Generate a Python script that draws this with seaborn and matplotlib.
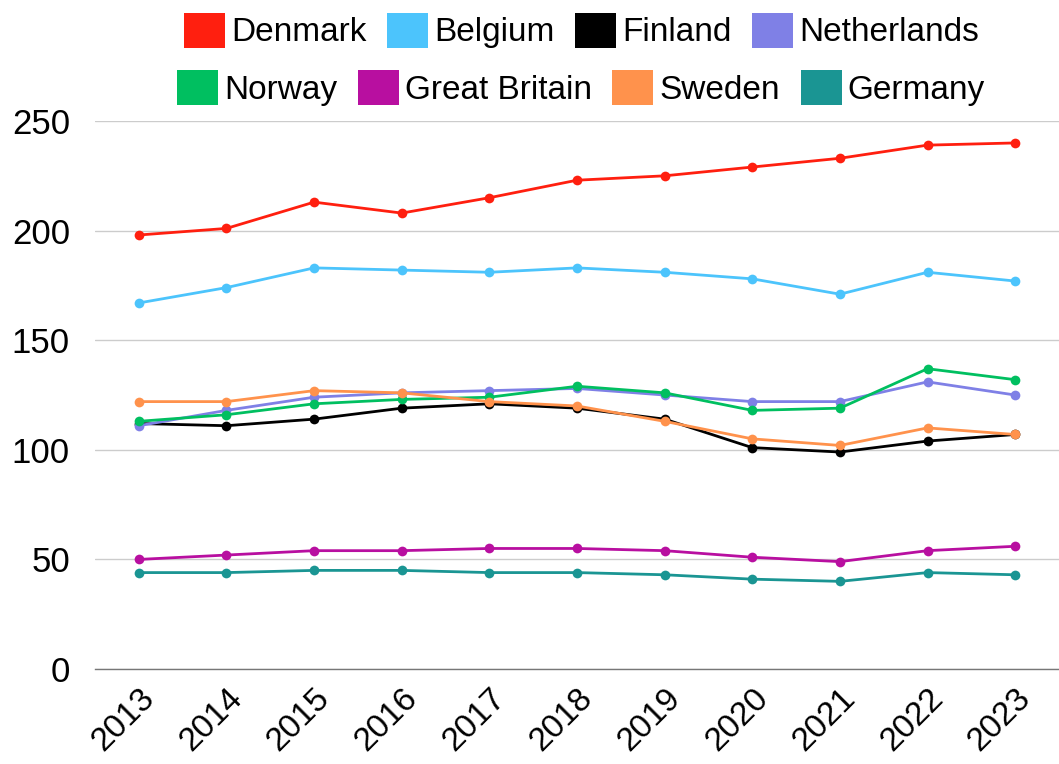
import matplotlib
matplotlib.use("Agg")
import matplotlib.pyplot as plt
from matplotlib.patches import Patch
import seaborn as sns
import pandas as pd

years = [2013, 2014, 2015, 2016, 2017, 2018, 2019, 2020, 2021, 2022, 2023]

denmark = [198, 201, 213, 208, 215, 223, 225, 229, 233, 239, 240]
belgium = [167, 174, 183, 182, 181, 183, 181, 178, 171, 181, 177]
finland = [112, 111, 114, 119, 121, 119, 114, 101, 99, 104, 107]
netherlands = [111, 118, 124, 126, 127, 128, 125, 122, 122, 131, 125]
norway = [113, 116, 121, 123, 124, 129, 126, 118, 119, 137, 132]
great_britain = [50, 52, 54, 54, 55, 55, 54, 51, 49, 54, 56]
sweden = [122, 122, 127, 126, 122, 120, 113, 105, 102, 110, 107]
germany = [44, 44, 45, 45, 44, 44, 43, 41, 40, 44, 43]

countries = ["Denmark", "Belgium", "Finland", "Netherlands",
             "Norway", "Great Britain", "Sweden", "Germany"]
series = [denmark, belgium, finland, netherlands,
          norway, great_britain, sweden, germany]
colors = ["#ff1f0f", "#4cc4fc", "#000000", "#7f80e6",
          "#00bf60", "#b80fa0", "#ff924c", "#1a9593"]

rows = []
for name, vals in zip(countries, series):
    for y, v in zip(years, vals):
        rows.append({"year": y, "value": v, "country": name})
df = pd.DataFrame(rows)

sns.set_style("white")
plt.rcParams["font.family"] = ["Liberation Sans", "DejaVu Sans"]
plt.rcParams["text.color"] = "black"
plt.rcParams["xtick.color"] = "black"
plt.rcParams["ytick.color"] = "black"

fig = plt.figure(figsize=(10.59, 7.64), dpi=100)
ax = fig.add_axes([0.0897, 0.1243, 0.9103, 0.7173])

sns.lineplot(data=df, x="year", y="value", hue="country", hue_order=countries,
             palette=dict(zip(countries, colors)), marker="o", markersize=7,
             markeredgewidth=0, linewidth=2, legend=False, ax=ax)

ax.set_xlim(2012.5, 2023.5)
ax.set_ylim(0, 250)
ax.set_yticks([0, 50, 100, 150, 200, 250])
ax.set_xticks(years)
ax.set_xticklabels([str(y) for y in years], rotation=45, ha="right",
                   rotation_mode="anchor")
ax.tick_params(axis="both", labelsize=25, length=0)
ax.tick_params(axis="x", labelsize=24, pad=10)
ax.tick_params(axis="y", pad=18)
ax.grid(axis="y", color="#cccccc", linewidth=1)
ax.set_axisbelow(True)
for s in ["left", "right", "top"]:
    ax.spines[s].set_visible(False)
ax.spines["bottom"].set_color("#777777")
ax.spines["bottom"].set_linewidth(1)
ax.set_xlabel("")
ax.set_ylabel("")

# legend: two separately centred rows with square swatches
handles = [Patch(facecolor=c, edgecolor="none", label=n)
           for n, c in zip(countries, colors)]
leg_kw = dict(ncol=4, frameon=False, fontsize=24, handlelength=1.23,
              handleheight=1.23, handletextpad=0.18, columnspacing=0.62,
              borderpad=0, borderaxespad=0)
leg1 = fig.legend(handles=handles[:4], loc="center",
                  bbox_to_anchor=(0.5491, 0.960), **leg_kw)
leg2 = fig.legend(handles=handles[4:], loc="center",
                  bbox_to_anchor=(0.5486, 0.885), **leg_kw)

fig.savefig("out.png", dpi=100)
